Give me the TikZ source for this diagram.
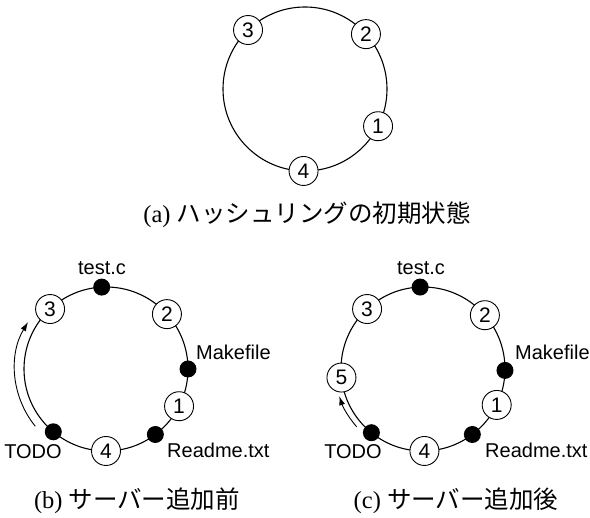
\documentclass[tikz,border=0pt]{standalone}
\usepackage{fontspec}
\setmainfont{Liberation Serif}
\newfontfamily\lsans{Liberation Sans}
\newfontfamily\cjk{Noto Sans CJK JP}
\usetikzlibrary{arrows.meta,calc}
\tikzset{
  ring/.style={line width=1.1pt},
  srv/.style={circle, draw, line width=0.9pt, fill=white, minimum size=29pt, inner sep=0pt, font=\lsans\fontsize{21}{24}\selectfont},
  dot/.style={circle, fill=black, minimum size=17pt, inner sep=0pt},
  lbl/.style={inner sep=0pt, font=\lsans\fontsize{20}{24}\selectfont},
  captxt/.style={inner sep=0pt, font=\fontsize{24.5}{30}\selectfont},
  mv/.style={line width=0.9pt, -{Latex[length=9pt,width=6pt]}}
}
\begin{document}
\begin{tikzpicture}[x=1pt,y=1pt]
\useasboundingbox (0,0) rectangle (590,518);
% ---------- (a) ----------
\coordinate (aC) at (305,429);
\draw[ring] (aC) circle[radius=82];
\node[srv] (a3) at ($(aC)+(134:82)$) {3};
\node[srv] (a2) at ($(aC)+(42:82)$) {2};
\node[srv] (a1) at ($(aC)+(-27:82)$) {1};
\node[srv] (a4) at ($(aC)+(-91:82)$) {4};
\node[captxt] (capA) at (307,303) {(a) {\cjk ハッシュリングの初期状態}};
% ---------- (b) ----------
\coordinate (bC) at (106,149);
\draw[ring] (bC) circle[radius=82];
\path (bC) ++(219:91) coordinate (bS);
\draw[mv] (bS) arc[start angle=219, end angle=149, radius=91];
\node[dot] (bT) at ($(bC)+(93:82)$) {};
\node[dot] (bM) at ($(bC)+(0:82)$) {};
\node[dot] (bR) at ($(bC)+(-53:82)$) {};
\node[dot] (bD) at ($(bC)+(-130:82)$) {};
\node[srv] (b3) at ($(bC)+(133:82)$) {3};
\node[srv] (b2) at ($(bC)+(42:82)$) {2};
\node[srv] (b1) at ($(bC)+(-27:82)$) {1};
\node[srv] (b4) at ($(bC)+(-90:82)$) {4};
\node[lbl] (bTl) at (102,250) {test.c};
\node[lbl, anchor=west] (bMl) at (196,166) {Makefile};
\node[lbl, anchor=west] (bRl) at (167,68) {Readme.txt};
\node[lbl] (bDl) at (33,66) {TODO};
\node[captxt] (capB) at (137,17) {(b) {\cjk サーバー追加前}};
% ---------- (c) ----------
\coordinate (cC) at (423,149);
\draw[ring] (cC) circle[radius=82];
\path (cC) ++(221:88) coordinate (cS);
\draw[mv] (cS) arc[start angle=221, end angle=198, radius=88];
\node[dot] (cT) at ($(cC)+(92:82)$) {};
\node[dot] (cM) at ($(cC)+(-1:82)$) {};
\node[dot] (cR) at ($(cC)+(-53:82)$) {};
\node[dot] (cD) at ($(cC)+(-129:82)$) {};
\node[srv] (c3) at ($(cC)+(133:82)$) {3};
\node[srv] (c2) at ($(cC)+(41:82)$) {2};
\node[srv] (c1) at ($(cC)+(-26:82)$) {1};
\node[srv] (c4) at ($(cC)+(-89:82)$) {4};
\node[srv] (c5) at ($(cC)+(186:82)$) {5};
\node[lbl] (cTl) at (421,250) {test.c};
\node[lbl, anchor=west] (cMl) at (515,166) {Makefile};
\node[lbl, anchor=west] (cRl) at (485,68) {Readme.txt};
\node[lbl] (cDl) at (353,66) {TODO};
\node[captxt] (capC) at (456,17) {(c) {\cjk サーバー追加後}};
\end{tikzpicture}
\end{document}
